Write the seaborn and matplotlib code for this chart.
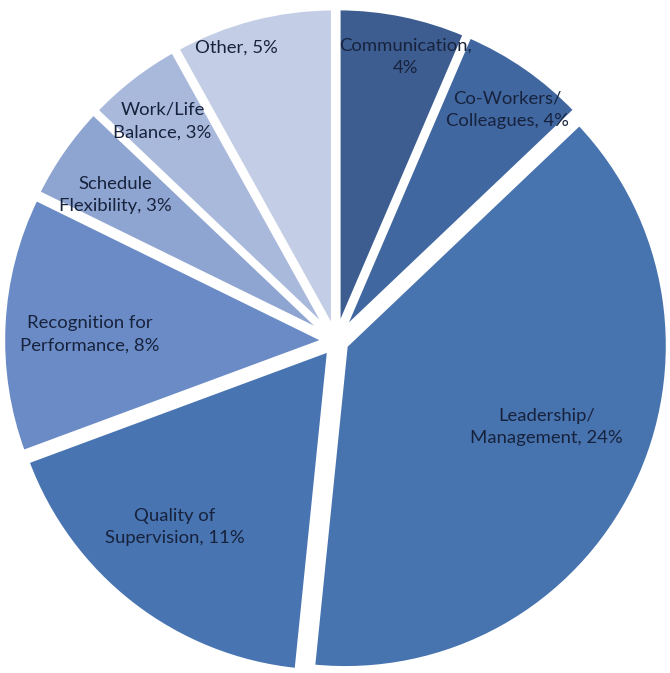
import numpy as np
import matplotlib
matplotlib.use("Agg")
import matplotlib.pyplot as plt
import seaborn as sns

# Reasons cited, with share of responses (%)
categories = [
    "Communication",
    "Co-Workers/\nColleagues",
    "Leadership/\nManagement",
    "Quality of\nSupervision",
    "Recognition for\nPerformance",
    "Schedule\nFlexibility",
    "Work/Life\nBalance",
    "Other",
]
values = [4, 4, 24, 11, 8, 3, 3, 5]
label_texts = [
    "Communication,\n4%",
    "Co-Workers/\nColleagues, 4%",
    "Leadership/\nManagement, 24%",
    "Quality of\nSupervision, 11%",
    "Recognition for\nPerformance, 8%",
    "Schedule\nFlexibility, 3%",
    "Work/Life\nBalance, 3%",
    "Other, 5%",
]
slice_colors = [
    "#3D5D90", "#4167A1", "#4773AF", "#4874B1",
    "#6A8BC5", "#8FA5D1", "#A9B9DC", "#C3CDE5",
]

sns.set_theme(style="white")
plt.rcParams["font.family"] = ["Lato", "DejaVu Sans"]

palette = sns.color_palette(slice_colors)

fig = plt.figure(figsize=(6.70, 6.73), dpi=100)
ax = fig.add_axes([0, 0, 1, 1])

wedges, _ = ax.pie(
    values,
    colors=palette,
    startangle=90,
    counterclock=False,
    explode=[0.032] * len(values),
    radius=1.0,
    wedgeprops=dict(edgecolor="white", linewidth=3.6),
)

# radial placement of each label (from the pie centre), with a small angular nudge
label_radius = [0.905, 0.89, 0.705, 0.762, 0.762, 0.82, 0.867, 0.959]
angle_shift = [-2.1, -1.7, 3.9, -3.2, 1.3, 1.4, 0.5, 4.3]
for w, txt, r, da in zip(wedges, label_texts, label_radius, angle_shift):
    mid = np.deg2rad((w.theta1 + w.theta2) / 2 + da)
    ax.text(r * np.cos(mid), r * np.sin(mid), txt,
            ha="center", va="center", fontsize=13.3, color="#17223D",
            linespacing=1.5)

R = 323
ax.set_xlim(-336 / R, (670 - 336) / R)
ax.set_ylim(-332 / R, 341 / R)
ax.set_aspect("auto")
ax.axis("off")

fig.savefig("out.png", dpi=100, facecolor="white")
